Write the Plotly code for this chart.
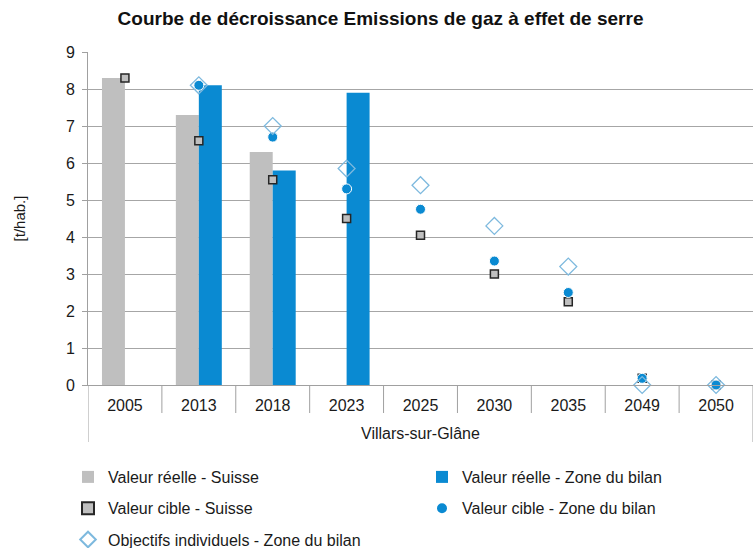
import plotly.graph_objects as go

categories = ["2005", "2013", "2018", "2023", "2025", "2030", "2035", "2049", "2050"]
group_label = "Villars-sur-Glâne"
reel_suisse = [8.3, 7.3, 6.3, None, None, None, None, None, None]
reel_zone = [None, 8.1, 5.8, 7.9, None, None, None, None, None]
cible_suisse = [8.3, 6.6, 5.55, 4.5, 4.05, 3.0, 2.25, 0.18, 0]
cible_zone = [None, 8.1, 6.7, 5.3, 4.75, 3.35, 2.5, 0.18, 0]
objectifs = [None, 8.1, 7.0, 5.85, 5.4, 4.3, 3.2, 0, 0]
y_ticks = list(range(0, 10))

FONT = "Liberation Sans, Arial, sans-serif"
GRAY = "#bfbfbf"
BLUE = "#0a8ad2"
LIGHTBLUE = "#7db9de"
AXIS = "#a0a0a0"
TXT = "#1a1a1a"

fig = go.Figure()
fig.add_trace(go.Bar(x=categories, y=reel_suisse, name="Valeur réelle - Suisse",
                     marker=dict(color=GRAY, line=dict(width=0)), legend="legend",
                     legendgroup="a"))
fig.add_trace(go.Bar(x=categories, y=reel_zone, name="Valeur réelle - Zone du bilan",
                     marker=dict(color=BLUE, line=dict(width=0)), legend="legend2",
                     legendgroup="b"))
fig.add_trace(go.Scatter(x=categories, y=cible_suisse, name="Valeur cible - Suisse",
                         mode="markers", cliponaxis=False, legend="legend", legendgroup="c",
                         marker=dict(symbol="square", size=8, color=GRAY,
                                     line=dict(color="#262626", width=1.5))))
fig.add_trace(go.Scatter(x=categories, y=cible_zone, name="Valeur cible - Zone du bilan",
                         mode="markers", cliponaxis=False, legend="legend2", legendgroup="d",
                         marker=dict(symbol="circle", size=10, color=BLUE,
                                     line=dict(color="white", width=1))))
fig.add_trace(go.Scatter(x=categories, y=objectifs, name="Objectifs individuels - Zone du bilan",
                         mode="markers", cliponaxis=False, legend="legend", legendgroup="e",
                         marker=dict(symbol="diamond-open", size=13, color=LIGHTBLUE,
                                     line=dict(color=LIGHTBLUE, width=1.3))))

plot_h = 548 - 52 - 163

legend_common = dict(xanchor="left", yanchor="top", orientation="v", tracegroupgap=7.5,
                     itemwidth=30, bgcolor="rgba(0,0,0,0)", itemsizing="constant",
                     font=dict(size=16, color=TXT), traceorder="grouped")

fig.update_layout(
    width=755, height=548,
    margin=dict(l=88, r=2, t=52, b=163, autoexpand=False),
    paper_bgcolor="white", plot_bgcolor="white",
    font=dict(family=FONT, size=16, color=TXT),
    title=dict(text="<b>Courbe de décroissance Emissions de gaz à effet de serre</b>",
               x=0.504, xanchor="center", y=1 - 18 / 548, yanchor="middle", yref="container",
               font=dict(family=FONT, size=19, color="#111111")),
    barmode="group", bargap=0.378, bargroupgap=0,
    xaxis=dict(type="category", range=[-0.5, len(categories) - 0.5], automargin=False,
               showgrid=False, showline=True, linecolor=AXIS, linewidth=1,
               ticks="", ticklabelstandoff=6, tickfont=dict(size=16, color=TXT),
               fixedrange=True),
    yaxis=dict(range=[0, 9], tickvals=y_ticks, showgrid=True, gridcolor="#a6a6a6",
               gridwidth=1, showline=True, linecolor=AXIS, linewidth=1, automargin=False,
               ticks="outside", ticklen=5, tickcolor=AXIS, zeroline=False,
               ticklabelstandoff=4, tickfont=dict(size=16, color=TXT),
               title=dict(text="[t/hab.]", standoff=36, font=dict(size=15, color=TXT))),
    legend=dict(x=(68 - 88) / 665, y=-(460 - 385) / plot_h, **legend_common),
    legend2=dict(x=(422 - 88) / 665, y=-(460 - 385) / plot_h, **legend_common),
    showlegend=True,
)

# separators between categories (category boundaries) on the axis
n = len(categories)
for i in range(n + 1):
    outer = i in (0, n)
    fig.add_shape(type="line", xref="x", yref="paper", x0=i - 0.5, x1=i - 0.5,
                  y0=0, y1=-((442 if outer else 413) - 385) / plot_h,
                  line=dict(color=AXIS, width=1))

fig.add_annotation(text=group_label, xref="x domain", yref="paper", x=0.5,
                   y=-(433 - 385) / plot_h, yanchor="middle", showarrow=False,
                   font=dict(size=16, color=TXT))

fig.write_html("out.html", config={"displayModeBar": False},
               post_script="document.body.style.margin='0';document.body.style.overflow='hidden';")
